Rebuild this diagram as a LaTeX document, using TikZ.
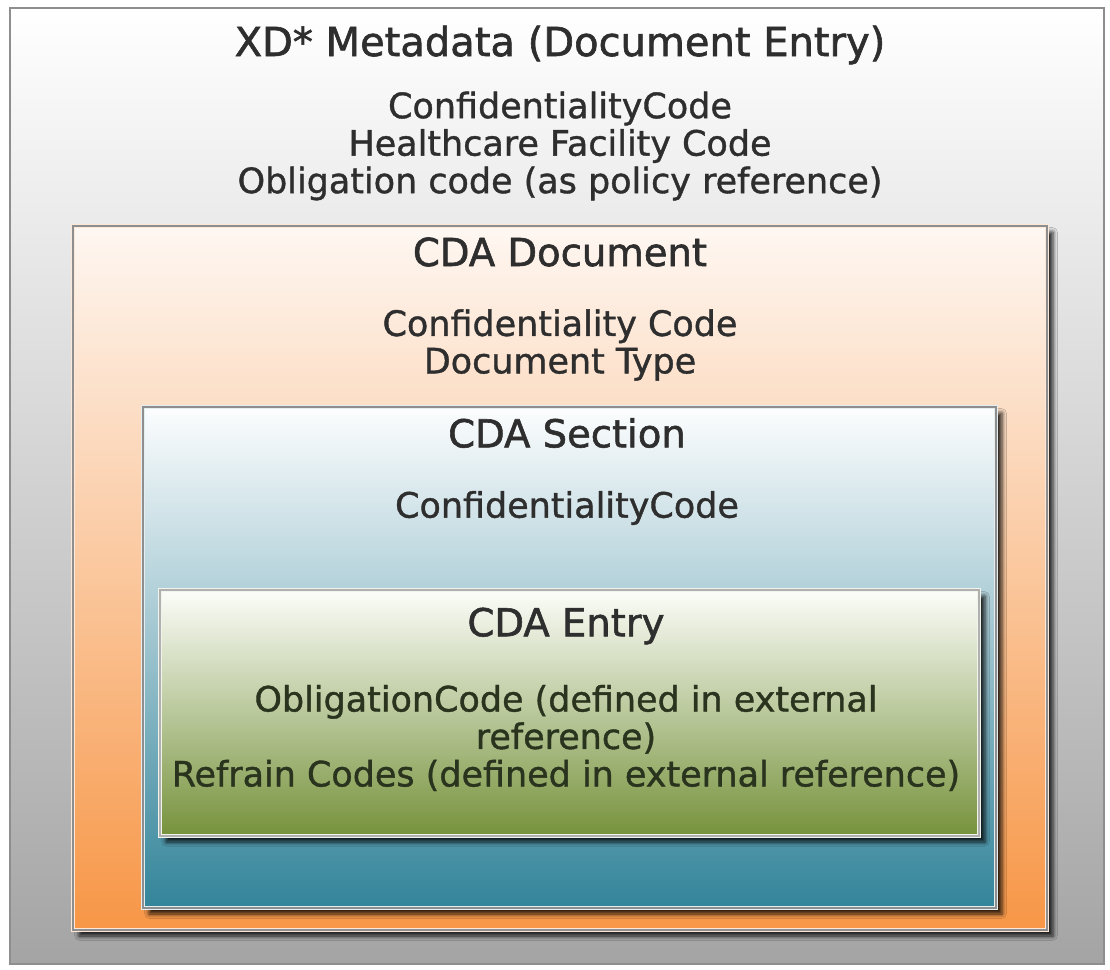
\documentclass[tikz,border=0pt]{standalone}
\usepackage{fontspec}
\setmainfont{DejaVu Sans}[FakeBold=1.4]
\newfontfamily\labelfont{DejaVu Sans}[FakeBold=1.1]
\newfontfamily\titlefont{DejaVu Sans}[FakeBold=1.5]
\usetikzlibrary{shadows.blur}

\definecolor{txt}{HTML}{2E2E2E}
\definecolor{txtgreen}{HTML}{29331D}
\definecolor{edgegray}{HTML}{8E8E8E}
\definecolor{outerbot}{HTML}{A4A4A4}
\definecolor{orangetop}{HTML}{FEF7F2}
\definecolor{orangebot}{HTML}{F79646}
\definecolor{orangerim}{HTML}{FDE7D8}
\definecolor{bluetop}{HTML}{FCFDFE}
\definecolor{bluemid}{HTML}{B6D2DA}
\definecolor{bluebot}{HTML}{33849A}
\definecolor{bluerim}{HTML}{E4EEF1}
\definecolor{greentop}{HTML}{FCFDF9}
\definecolor{greenbot}{HTML}{76923C}
\definecolor{greenrim}{HTML}{F1F4EA}

\tikzset{
  panel/.style={inner sep=0pt, outer sep=0pt, line width=2.6pt},
  rim/.style={draw=edgegray, line width=0.8pt},
  dropshadow/.style={blur shadow={shadow xshift=4.5pt, shadow yshift=-4.5pt,
      shadow blur radius=3.2pt, shadow opacity=85}},
  heading/.style={text=txt, font=\titlefont\fontsize{28.9pt}{32pt}\selectfont},
  bigheading/.style={text=txt, font=\titlefont\fontsize{30pt}{34pt}\selectfont},
  body/.style={text=txt, align=center, font=\labelfont\fontsize{26.2pt}{28.1pt}\selectfont},
}

\begin{document}
\begin{tikzpicture}[x=0.75pt, y=-0.75pt]
  \useasboundingbox (0,0) rectangle (1110,970);

  % XD* metadata frame
  \node[panel, draw=white, line width=1.6pt, top color=white, bottom color=outerbot,
        minimum width=820.5pt, minimum height=717pt] (xd) at (557,486) {};
  \draw[rim, line width=1.3pt] (xd.north west) rectangle (xd.south east);

  % CDA document
  \node[panel, draw=orangerim, dropshadow, top color=orangetop, bottom color=orangebot,
        minimum width=730.5pt, minimum height=528pt] (doc) at (560,578) {};
  \draw[rim] (doc.north west) rectangle (doc.south east);

  % CDA section
  \node[panel, draw=bluerim, dropshadow, top color=bluetop, middle color=bluemid,
        bottom color=bluebot, minimum width=639.75pt, minimum height=375.75pt] (sec) at (569.5,657.5) {};
  \draw[rim] (sec.north west) rectangle (sec.south east);

  % CDA entry
  \node[panel, draw=greenrim, dropshadow, top color=greentop, bottom color=greenbot,
        minimum width=614.25pt, minimum height=184.5pt] (ent) at (569.5,713) {};
  \draw[rim, draw=edgegray!70] (ent.north west) rectangle (ent.south east);

  % labels
  \node[bigheading] (xdtitle) at (560,45) {XD* Metadata (Document Entry)};
  \node[body] (xdbody) at (560,146) {ConfidentialityCode\\Healthcare Facility Code\\Obligation code (as policy reference)};

  \node[heading] (doctitle) at (560,252) {CDA Document};
  \node[body] (docbody) at (560,345) {Confidentiality Code\\Document Type};

  \node[heading] (sectitle) at (567,433) {CDA Section};
  \node[body] (secbody) at (567,508) {ConfidentialityCode};

  \node[heading] (enttitle) at (566,626) {CDA Entry};
  \node[body, text=txtgreen] (entbody) at (566,738) {ObligationCode (defined in external\\reference)\\Refrain Codes (defined in external reference)};
\end{tikzpicture}
\end{document}
